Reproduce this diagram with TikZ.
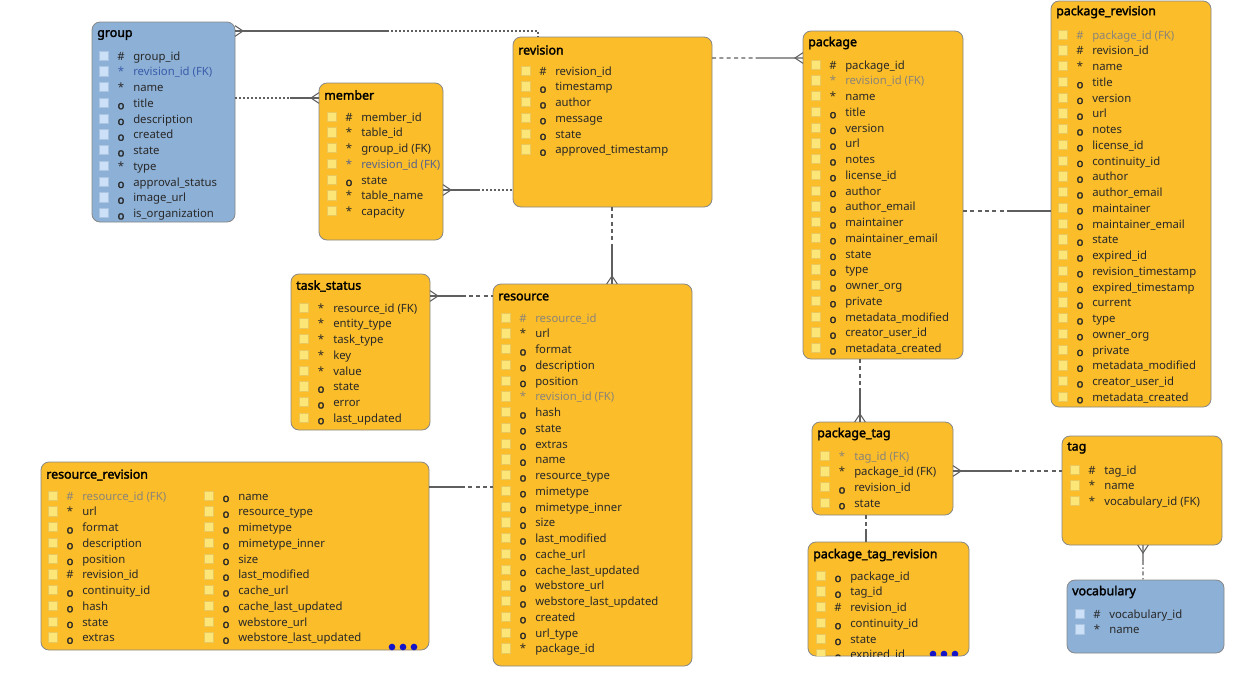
\documentclass[tikz,border=0pt]{standalone}
\usepackage{fontspec}
\setmainfont{Noto Sans}[AutoFakeBold=2.2]
\usetikzlibrary{calc, positioning}
\definecolor{boxorange}{RGB}{251,189,42}
\definecolor{boxblue}{RGB}{141,176,214}
\definecolor{boxedge}{RGB}{135,135,135}
\definecolor{chkyellow}{RGB}{253,230,120}
\definecolor{chkyedge}{RGB}{232,200,95}
\definecolor{chkblue}{RGB}{204,224,247}
\definecolor{chkbedge}{RGB}{170,196,226}
\definecolor{ink}{RGB}{40,40,40}
\definecolor{fkgray}{RGB}{138,132,120}
\definecolor{fkblue}{RGB}{58,92,170}
\definecolor{fkslate}{RGB}{88,100,140}
\definecolor{linegray}{RGB}{95,95,95}
\definecolor{dotblue}{RGB}{20,20,200}

\newcommand{\symk}{\#}
\newcommand{\symm}{*}
\newcommand{\symo}{\raisebox{-0.3ex}{\textbf{o}}}

% one column of fields: box node, prefix, x offset, checkbox style, list
\newcommand{\fields}[5]{%
  \foreach \fs/\fn/\fc [count=\i from 0] in {#5} {
    \node[#4] (#2-c\i) at ($(#1.north west)+(#3,{33.5+15.75*\i})$) {};
    \node[sym, text=\fc] (#2-s\i) at ($(#1.north west)+(#3+17,{33.5+15.75*\i})$) {\csname sym\fs\endcsname};
    \node[fld, text=\fc] (#2-f\i) at ($(#1.north west)+(#3+29,{33.5+15.75*\i})$) {\fn};
  }%
}

% crow's foot: point on the box, point along the line
\newcommand{\crowfoot}[2]{%
  \draw[conn] ($(#1)!4pt!90:(#2)$) -- ($(#1)!6pt!(#2)$) -- ($(#1)!4pt!-90:(#2)$);%
}

\begin{document}
\begin{tikzpicture}[
    x=0.75pt, y=-0.75pt,
    tbl/.style n args={2}{
        rectangle,
        draw=boxedge,
        line width=0.6pt,
        rounded corners=6pt,
        inner sep=0pt, outer sep=0pt,
        anchor=north west,
        minimum width=#1*0.75pt,
        minimum height=#2*0.75pt
    },
    ttl/.style={
        anchor=west, inner sep=0pt, text=black,
        font=\fontsize{9.3}{11}\selectfont\bfseries
    },
    ychk/.style={
        rectangle, draw=chkyedge, fill=chkyellow, line width=0.4pt,
        minimum size=7pt, inner sep=0pt
    },
    bchk/.style={ychk, draw=chkbedge, fill=chkblue},
    sym/.style={
        inner sep=0pt, text height=1.6ex, text depth=.3ex,
        font=\fontsize{8.5}{10}\selectfont
    },
    fld/.style={sym, anchor=west},
    conn/.style={draw=linegray, line width=0.8pt},
    dotc/.style={conn, dash pattern=on 1.5pt off 1.5pt},
    dashc/.style={conn, dash pattern=on 3pt off 2.5pt},
    dashdotc/.style={conn, dash pattern=on 3pt off 2pt on 1pt off 2pt},
    moredot/.style={circle, fill=dotblue, minimum size=5pt, inner sep=0pt}
]
\useasboundingbox (0,0) rectangle (1250,694);

% group
\node[tbl={143}{200}, fill=boxblue] (grp) at (92,22) {};
\node[ttl] (grp-t) at ($(grp.north west)+(5,13)$) {group};
\fields{grp}{grp}{12}{bchk}{k/group\_id/ink, m/revision\_id (FK)/fkblue, m/name/ink, o/title/ink,
  o/description/ink, o/created/ink, o/state/ink, m/type/ink, o/approval\_status/ink,
  o/image\_url/ink, o/is\_organization/ink}

% member
\node[tbl={124}{157}, fill=boxorange] (mem) at (319,83) {};
\node[ttl] (mem-t) at ($(mem.north west)+(5,12)$) {member};
\fields{mem}{mem}{13}{ychk}{k/member\_id/ink, m/table\_id/ink, m/group\_id (FK)/ink,
  m/revision\_id (FK)/fkslate, o/state/ink, m/table\_name/ink, m/capacity/ink}

% revision
\node[tbl={199}{170}, fill=boxorange] (rev) at (513,37) {};
\node[ttl] (rev-t) at ($(rev.north west)+(5,13)$) {revision};
\fields{rev}{rev}{13}{ychk}{k/revision\_id/ink, o/timestamp/ink, o/author/ink, o/message/ink,
  o/state/ink, o/approved\_timestamp/ink}

% package
\node[tbl={160}{328}, fill=boxorange] (pkg) at (803,31) {};
\node[ttl] (pkg-t) at ($(pkg.north west)+(5,12)$) {package};
\fields{pkg}{pkg}{13}{ychk}{k/package\_id/ink, m/revision\_id (FK)/fkgray, m/name/ink, o/title/ink,
  o/version/ink, o/url/ink, o/notes/ink, o/license\_id/ink, o/author/ink, o/author\_email/ink,
  o/maintainer/ink, o/maintainer\_email/ink, o/state/ink, o/type/ink, o/owner\_org/ink,
  o/private/ink, o/metadata\_modified/ink, o/creator\_user\_id/ink, o/metadata\_created/ink}

% package_revision
\node[tbl={160}{406}, fill=boxorange] (pkgrev) at (1051,1) {};
\node[ttl] (pkgrev-t) at ($(pkgrev.north west)+(5,11)$) {package\_revision};
\fields{pkgrev}{pkgrev}{12}{ychk}{k/package\_id (FK)/fkgray, k/revision\_id/ink, m/name/ink,
  o/title/ink, o/version/ink, o/url/ink, o/notes/ink, o/license\_id/ink, o/continuity\_id/ink,
  o/author/ink, o/author\_email/ink, o/maintainer/ink, o/maintainer\_email/ink, o/state/ink,
  o/expired\_id/ink, o/revision\_timestamp/ink, o/expired\_timestamp/ink, o/current/ink,
  o/type/ink, o/owner\_org/ink, o/private/ink, o/metadata\_modified/ink,
  o/creator\_user\_id/ink, o/metadata\_created/ink}

% task_status
\node[tbl={139}{156}, fill=boxorange] (task) at (291,274) {};
\node[ttl] (task-t) at ($(task.north west)+(5,12)$) {task\_status};
\fields{task}{task}{13}{ychk}{m/resource\_id (FK)/ink, m/entity\_type/ink, m/task\_type/ink,
  m/key/ink, m/value/ink, o/state/ink, o/error/ink, o/last\_updated/ink}

% resource
\node[tbl={199}{382}, fill=boxorange] (res) at (493,284) {};
\node[ttl] (res-t) at ($(res.north west)+(5,13)$) {resource};
\fields{res}{res}{13}{ychk}{k/resource\_id/fkgray, m/url/ink, o/format/ink, o/description/ink,
  o/position/ink, m/revision\_id (FK)/fkgray, o/hash/ink, o/state/ink, o/extras/ink, o/name/ink,
  o/resource\_type/ink, o/mimetype/ink, o/mimetype\_inner/ink, o/size/ink, o/last\_modified/ink,
  o/cache\_url/ink, o/cache\_last\_updated/ink, o/webstore\_url/ink,
  o/webstore\_last\_updated/ink, o/created/ink, o/url\_type/ink, m/package\_id/ink}

% resource_revision
\node[tbl={388}{188}, fill=boxorange] (resrev) at (41,462) {};
\node[ttl] (resrev-t) at ($(resrev.north west)+(5,13)$) {resource\_revision};
\fields{resrev}{resrev-a}{12}{ychk}{k/resource\_id (FK)/fkgray, m/url/ink, o/format/ink,
  o/description/ink, o/position/ink, k/revision\_id/ink, o/continuity\_id/ink, o/hash/ink,
  o/state/ink, o/extras/ink}
\fields{resrev}{resrev-b}{168}{ychk}{o/name/ink, o/resource\_type/ink, o/mimetype/ink,
  o/mimetype\_inner/ink, o/size/ink, o/last\_modified/ink, o/cache\_url/ink,
  o/cache\_last\_updated/ink, o/webstore\_url/ink, o/webstore\_last\_updated/ink}
\foreach \k in {0,1,2}
  \node[moredot] (resrev-more\k) at ($(resrev.south east)+(-37+11*\k,-3)$) {};

% package_tag
\node[tbl={141}{93}, fill=boxorange] (ptag) at (812,422) {};
\node[ttl] (ptag-t) at ($(ptag.north west)+(5,12)$) {package\_tag};
\fields{ptag}{ptag}{13}{ychk}{m/tag\_id (FK)/fkgray, m/package\_id (FK)/ink, o/revision\_id/ink,
  o/state/ink}

% package_tag_revision
\node[tbl={161}{114}, fill=boxorange] (ptagrev) at (808,542) {};
\node[ttl] (ptagrev-t) at ($(ptagrev.north west)+(5,13)$) {package\_tag\_revision};
\begin{scope}
  \clip[rounded corners=6pt] (ptagrev.south west) rectangle (ptagrev.north east);
  \fields{ptagrev}{ptagrev}{13}{ychk}{o/package\_id/ink, o/tag\_id/ink, k/revision\_id/ink,
    o/continuity\_id/ink, o/state/ink, o/expired\_id/ink}
  \foreach \k in {0,1,2}
    \node[moredot] (ptagrev-more\k) at ($(ptagrev.south east)+(-36+11*\k,-2)$) {};
\end{scope}

% tag
\node[tbl={160}{109}, fill=boxorange] (tag) at (1062,436) {};
\node[ttl] (tag-t) at ($(tag.north west)+(5,12)$) {tag};
\fields{tag}{tag}{13}{ychk}{k/tag\_id/ink, m/name/ink, m/vocabulary\_id (FK)/ink}

% vocabulary
\node[tbl={157}{73}, fill=boxblue] (voc) at (1067,580) {};
\node[ttl] (voc-t) at ($(voc.north west)+(5,12)$) {vocabulary};
\fields{voc}{voc}{13}{bchk}{k/vocabulary\_id/ink, m/name/ink}

% relations
\coordinate (g1) at ($(grp.north east)+(0,9)$);
\coordinate (r1) at ($(rev.north west)+(25,0)$);
\draw[conn] (g1) -- ($(g1)!0.5!(g1-|r1)$) coordinate (h1);
\draw[dotc] (h1) -| (r1);
\crowfoot{g1}{h1}

\coordinate (g2) at ($(grp.north east)+(0,76)$);
\coordinate (e2) at (g2-|mem.west);
\draw[dotc] (g2) -- ($(g2)!0.65!(e2)$) coordinate (h2);
\draw[conn] (h2) -- (e2);
\crowfoot{e2}{g2}

\coordinate (e3) at ($(mem.north east)+(0,107)$);
\coordinate (r3) at (e3-|rev.west);
\draw[conn] (e3) -- ($(e3)!0.5!(r3)$) coordinate (h3);
\draw[dotc] (h3) -- (r3);
\crowfoot{e3}{r3}

\coordinate (r4) at ($(rev.north east)+(0,21)$);
\coordinate (p4) at (r4-|pkg.west);
\draw[dashc] (r4) -- ($(r4)!0.48!(p4)$) coordinate (h4);
\draw[conn] (h4) -- (p4);
\crowfoot{p4}{r4}

\coordinate (r5) at ($(rev.south west)+(99,0)$);
\coordinate (s5) at (r5|-res.north);
\draw[dashc] (r5) -- ($(r5)!0.5!(s5)$) coordinate (h5);
\draw[conn] (h5) -- (s5);
\crowfoot{s5}{r5}

\coordinate (t6) at ($(task.north east)+(0,22)$);
\coordinate (s6) at (t6-|res.west);
\draw[conn] (t6) -- ($(t6)!0.5!(s6)$) coordinate (h6);
\draw[dashc] (h6) -- (s6);
\crowfoot{t6}{s6}

\coordinate (q7) at ($(resrev.north east)+(0,25)$);
\coordinate (s7) at (q7-|res.west);
\draw[conn] (q7) -- ($(q7)!0.5!(s7)$) coordinate (h7);
\draw[dashc] (h7) -- (s7);

\coordinate (p8) at ($(pkg.north east)+(0,180)$);
\coordinate (v8) at (p8-|pkgrev.west);
\draw[dashc] (p8) -- ($(p8)!0.5!(v8)$) coordinate (h8);
\draw[conn] (h8) -- (v8);

\coordinate (p9) at ($(pkg.south west)+(57,0)$);
\coordinate (a9) at (p9|-ptag.north);
\draw[dashc] (p9) -- ($(p9)!0.5!(a9)$) coordinate (h9);
\draw[conn] (h9) -- (a9);
\crowfoot{a9}{p9}

\coordinate (a10) at ($(ptag.north east)+(0,49)$);
\coordinate (b10) at (a10-|tag.west);
\draw[conn] (a10) -- ($(a10)!0.5!(b10)$) coordinate (h10);
\draw[dashc] (h10) -- (b10);
\crowfoot{a10}{b10}

\coordinate (a11) at ($(ptag.south west)+(54,0)$);
\coordinate (c11) at (a11|-ptagrev.north);
\draw[dashc] (a11) -- ($(a11)!0.5!(c11)$) coordinate (h11);
\draw[conn] (h11) -- (c11);

\coordinate (b12) at ($(tag.south west)+(81,0)$);
\coordinate (d12) at (b12|-voc.north);
\draw[conn] (b12) -- ($(b12)!0.45!(d12)$) coordinate (h12);
\draw[dashdotc] (h12) -- (d12);
\crowfoot{b12}{d12}

\end{tikzpicture}
\end{document}
